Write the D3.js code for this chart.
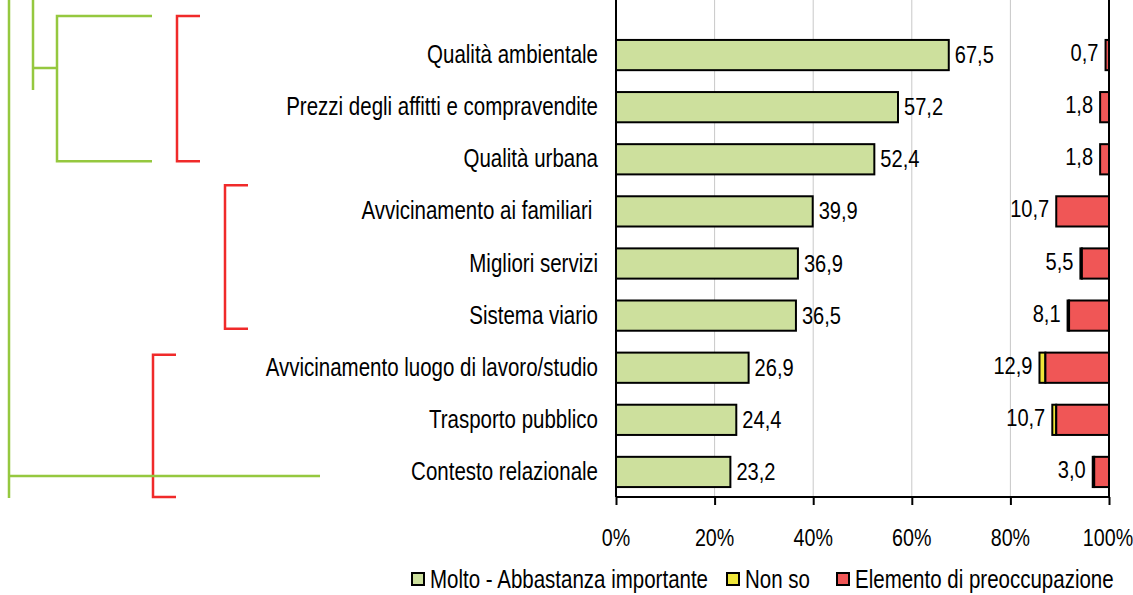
<!DOCTYPE html>
<meta charset="utf-8">
<head>
<style>
  body { margin: 0; background: #fff; }
  svg text { fill: #000; white-space: pre; }
</style>
</head>
<body>
<div id="chart"></div>
<script src="https://cdn.jsdelivr.net/npm/d3@7"></script>
<script>

// data
var categories = ["Qualità ambientale", "Prezzi degli affitti e compravendite", "Qualità urbana",
  "Avvicinamento ai familiari ", "Migliori servizi", "Sistema viario",
  "Avvicinamento luogo di lavoro/studio", "Trasporto pubblico", "Contesto relazionale"];
var importante = [67.5, 57.2, 52.4, 39.9, 36.9, 36.5, 26.9, 24.4, 23.2];
var nonSo = [0, 0, 0, 0, 0.3, 0.3, 1.2, 0.8, 0.3];
var preoccupazione = [0.7, 1.8, 1.8, 10.7, 5.5, 8.1, 12.9, 10.7, 3.0];
var xTicks = [0, 20, 40, 60, 80, 100];
var legendItems = ["Molto - Abbastanza importante", "Non so", "Elemento di preoccupazione"];

var colGreen = "#cde09d", colYellow = "#eee63a", colRed = "#f05656";
var treeGreen = "#95c83f", treeRed = "#f02a2a";

var W = 1133, H = 595;
var svg = d3.select("#chart").append("svg").attr("width", W).attr("height", H);

// is a narrow font installed? otherwise squeeze Liberation Sans
var cv = document.createElement("canvas").getContext("2d");
cv.font = "23px 'Liberation Sans Narrow', monospace";
var wn = cv.measureText("Prezzi degli affitti").width;
cv.font = "23px monospace";
var wm = cv.measureText("Prezzi degli affitti").width;
var hasNarrow = Math.abs(wn - wm) > 0.5;
var fam = hasNarrow ? "'Liberation Sans Narrow'" : "'Liberation Sans', Arial, sans-serif";
var sx = hasNarrow ? 1 : 0.82;

function label(g, x, y, txt, anchor, size) {
  return g.append("text")
    .attr("transform", "translate(" + x + "," + y + ") scale(" + sx + ",1)")
    .attr("text-anchor", anchor)
    .style("font-family", fam)
    .style("font-size", size + "px")
    .text(txt);
}

var x = d3.scaleLinear().domain([0, 100]).range([616, 1109]);
var y = d3.scaleBand().domain(d3.range(categories.length)).range([29, 498])
  .paddingInner(0.42).paddingOuter(0.21);
var rowY = d3.scaleLinear().domain([0, categories.length - 1])
  .range([y(0) + y.bandwidth() / 2, y(categories.length - 1) + y.bandwidth() / 2]);
var axisY = 497;

// gridlines
svg.append("g").selectAll("line").data(xTicks.slice(1, -1)).enter().append("line")
  .attr("x1", d => x(d)).attr("x2", d => x(d))
  .attr("y1", 0).attr("y2", axisY)
  .attr("stroke", "#c8c8c8").attr("stroke-width", 1);

// bars
var bars = svg.append("g");
bars.selectAll(".g").data(importante).enter().append("rect")
  .attr("x", x(0)).attr("y", (d, i) => y(i))
  .attr("width", d => x(d) - x(0)).attr("height", y.bandwidth())
  .attr("fill", colGreen).attr("stroke", "#000").attr("stroke-width", 2);
nonSo.forEach(function(d, i) {
  if (d <= 0) return;
  bars.append("rect")
    .attr("x", x(100 - preoccupazione[i] - d)).attr("y", y(i))
    .attr("width", x(d) - x(0)).attr("height", y.bandwidth())
    .attr("fill", colYellow).attr("stroke", "#000").attr("stroke-width", 2);
});
bars.selectAll(".r").data(preoccupazione).enter().append("rect")
  .attr("x", d => x(100 - d)).attr("y", (d, i) => y(i))
  .attr("width", d => x(100) - x(100 - d)).attr("height", y.bandwidth())
  .attr("fill", colRed).attr("stroke", "#000").attr("stroke-width", 2);

// value labels
var fmt = d => d.toFixed(1).replace(".", ",");
importante.forEach(function(d, i) {
  label(svg, x(d) + 6, y(i) + y.bandwidth() / 2 + 8, fmt(d), "start", 24.5);
});
preoccupazione.forEach(function(d, i) {
  label(svg, x(100 - d - nonSo[i]) - 7, y(i) + y.bandwidth() / 2 + 6, fmt(d), "end", 24.5);
});

// category labels
categories.forEach(function(c, i) {
  label(svg, 598, y(i) + y.bandwidth() / 2 + 8, c, "end", 25);
});

// axes frame
svg.append("line").attr("x1", x(0)).attr("x2", x(0)).attr("y1", 0).attr("y2", axisY)
  .attr("stroke", "#000").attr("stroke-width", 2);
svg.append("line").attr("x1", x(100)).attr("x2", x(100)).attr("y1", 0).attr("y2", axisY)
  .attr("stroke", "#000").attr("stroke-width", 2);
var ax = svg.append("g").attr("transform", "translate(0," + axisY + ")")
  .call(d3.axisBottom(x).tickValues(xTicks).tickSize(8).tickFormat(""));
ax.select(".domain").attr("stroke", "#000").attr("stroke-width", 2).attr("d", "M" + x(0) + ",0H" + x(100));
ax.selectAll(".tick line").attr("stroke", "#000").attr("stroke-width", 2);
xTicks.forEach(function(t) {
  label(svg, Math.min(x(t), 1108), 546, t + "%", "middle", 24);
});

// tree on the left
var tree = svg.append("g").attr("fill", "none").attr("stroke-width", 2.5);
function bracket(xv, from, to, arm, col) {
  tree.append("path")
    .attr("d", "M" + (xv + arm) + "," + rowY(from) + "H" + xv + "V" + rowY(to) + "H" + (xv + arm))
    .attr("stroke", col);
}
bracket(177, -0.75, 2.04, 23, treeRed);
bracket(225, 2.5, 5.25, 23, treeRed);
bracket(153, 5.75, 8.48, 23, treeRed);
bracket(57, -0.75, 2.04, 95, treeGreen);
tree.append("path").attr("stroke", treeGreen)
  .attr("d", "M33," + rowY(-1.1) + "V" + rowY(0.67) + "M33," + rowY(0.25) + "H57");
tree.append("path").attr("stroke", treeGreen)
  .attr("d", "M9," + rowY(-1.1) + "V" + rowY(8.5) + "M9," + rowY(8.08) + "H320");

// legend
var lg = svg.append("g");
var lgX = [412, 727, 837], lgCols = [colGreen, colYellow, colRed];
legendItems.forEach(function(t, i) {
  lg.append("rect").attr("x", lgX[i]).attr("y", 573).attr("width", 12).attr("height", 12)
    .attr("fill", lgCols[i]).attr("stroke", "#000").attr("stroke-width", 2);
  label(lg, lgX[i] + 18, 588, t, "start", 25);
});

</script>
</body>
